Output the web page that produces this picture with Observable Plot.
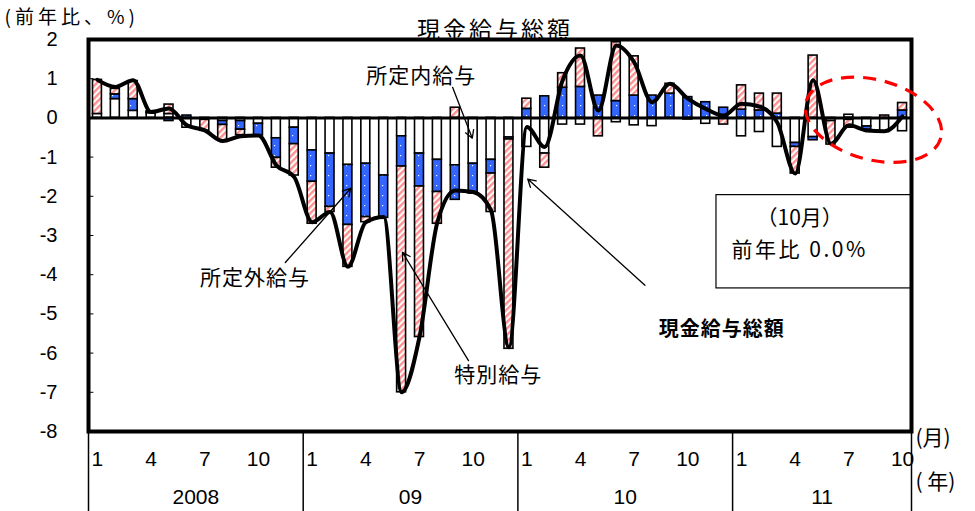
<!DOCTYPE html>
<html><head><meta charset="utf-8">
<script src="https://cdn.jsdelivr.net/npm/d3@7"></script>
<script src="https://cdn.jsdelivr.net/npm/@observablehq/plot@0.6"></script>
<style>
body{margin:0;background:#fff}
#chart svg{display:block}
</style></head>
<body><div id="chart"></div>
<script>
// ---- data (前年比 %, 2008年1月〜2011年10月) ----
const yearLabels = ["2008", "09", "10", "11"];
const monthsPerYear = [12, 12, 12, 10];
const seriesNames = ["所定内給与", "所定外給与", "特別給与"];
const scheduled = [
  0.10, 0.48, 0.18, 0.12, 0.10, -0.25, -0.05, -0.08, -0.08, -0.15, -0.52, -0.25,
  -0.83, -0.91, -1.20, -1.17, -1.47, -0.47, -0.91, -1.07, -1.21, -1.17, -1.07, -0.50,
  -0.74, -0.91, -0.17, -0.17, 0.00, -0.11, -0.19, -0.21, 0.00, -0.04, -0.15, 0.00,
  -0.47, -0.36, -0.74, -0.64, -0.49, -0.08, 0.08, -0.22, -0.36, -0.34
];
const overtime = [
  0.00, 0.12, 0.30, 0.02, -0.08, 0.06, 0.00, -0.10, -0.22, -0.30, -0.50, -0.42,
  -0.80, -1.36, -1.53, -1.36, -1.08, -0.77, -0.84, -0.82, -0.88, -0.76, -0.35, -0.05,
  0.23, 0.55, 0.77, 0.79, 0.57, 0.43, 0.57, 0.57, 0.62, 0.53, 0.40, 0.26,
  0.21, 0.19, 0.11, -0.10, -0.08, 0.00, -0.05, -0.08, 0.00, 0.19
];
const special = [
  0.87, 0.14, 0.46, 0.03, 0.24, 0.00, -0.28, -0.40, -0.14, 0.00, -0.25, -0.80,
  -1.07, -0.13, -1.07, -0.13, 0.00, -5.76, -3.84, -0.81, 0.26, 0.00, -0.98, -5.34,
  0.26, -0.36, 0.37, 0.98, -0.47, 1.50, 1.00, 0.00, 0.25, 0.00, 0.00, -0.17,
  0.62, 0.43, 0.51, -0.68, 1.59, -0.60, -0.20, 0.00, 0.06, 0.19
];
const total = [
  0.97, 0.79, 0.96, 0.15, 0.24, -0.19, -0.32, -0.59, -0.47, -0.45, -1.21, -1.51,
  -2.66, -2.40, -3.80, -2.66, -2.53, -7.00, -5.59, -2.66, -1.85, -1.89, -2.36, -5.85,
  -0.23, -0.74, 0.96, 1.59, 0.19, 1.85, 1.42, 0.40, 0.87, 0.49, 0.23, 0.06,
  0.36, 0.29, -0.12, -1.42, 0.96, -0.66, -0.19, -0.32, -0.34, 0.04
];
const yTicks = [2, 1, 0, -1, -2, -3, -4, -5, -6, -7, -8];
const monthTickValues = [1, 4, 7, 10];

// ---- derived tables ----
const months = [];
yearLabels.forEach((y, yi) => { for (let m = 1; m <= monthsPerYear[yi]; m++) months.push({year: y, month: m, i: months.length}); });
const N = months.length;
const series = [scheduled, overtime, special];
const bars = [];
months.forEach(m => series.forEach((s, k) => bars.push({i: m.i, series: seriesNames[k], value: s[m.i]})));
const lineData = total.map((v, i) => ({i, v}));
const monthTicks = months.filter(m => monthTickValues.includes(m.month));
const yearStarts = months.filter(m => m.month === 1).map(m => m.i);
const yearBounds = [...yearStarts, N];
const yearText = yearLabels.map((label, k) => ({label, c: (yearStarts[k] + yearBounds[k + 1]) / 2}));

// annotation anchors (data units: x = month index, y = %)
const labels = [
  {text: "所定内給与", x: 18.6, y: 1.06},
  {text: "所定外給与", x: 9.3, y: -4.09},
  {text: "特別給与", x: 22.9, y: -6.57}
];
const boldLabels = [{text: "現金給与総額", x: 35.4, y: -5.39}];
const arrows = [
  {x1: 20.35, y1: 0.78, x2: 21.45, y2: -0.52},
  {x1: 11.0, y1: -3.69, x2: 14.65, y2: -1.80},
  {x1: 21.24, y1: -6.19, x2: 17.55, y2: -3.43},
  {x1: 31.1, y1: -4.27, x2: 24.55, y2: -1.56}
];
const box = [{x1: 35.1, x2: N, y1: -1.97, y2: -4.35}];
const boxText = [{t: "（10月）", x: 39.75, y: -2.56}, {t: "前年比 0.0%", x: 39.75, y: -3.38}];

const NUM = "'Liberation Sans Narrow','Liberation Sans',Arial,sans-serif";
const JP = "'Noto Sans CJK JP','Noto Sans CJK SC',sans-serif";

const chart = Plot.plot({
  width: 975, height: 511,
  marginLeft: 88, marginRight: 64, marginTop: 39, marginBottom: 80,
  x: {type: "linear", domain: [0, N], axis: null},
  y: {domain: [-8, 2], axis: null},
  color: {domain: seriesNames, range: ["white", "url(#dots)", "url(#hatch)"]},
  style: {fontFamily: NUM, background: "white", color: "black"},
  marks: [
    Plot.rect(bars, Plot.stackY({x: "i", y: "value", x1: d => d.i + 0.25, x2: d => d.i + 0.75, fill: "series", stroke: "black", strokeWidth: 1.6})),
    Plot.ruleY([0], {stroke: "black", strokeWidth: 3}),
    Plot.line(lineData, {x: d => d.i + 0.5, y: "v", curve: "monotone-x", stroke: "black", strokeWidth: 4, strokeLinejoin: "round"}),
    Plot.rect(box, {x1: "x1", x2: "x2", y1: "y1", y2: "y2", fill: "white", stroke: "black", strokeWidth: 1.2}),
    Plot.text(boxText, {x: "x", y: "y", text: "t", fontSize: 21, fontFamily: JP}),
    Plot.arrow(arrows, {x1: "x1", y1: "y1", x2: "x2", y2: "y2", stroke: "black", strokeWidth: 1.3, headLength: 10}),
    Plot.text(labels, {x: "x", y: "y", text: "text", fontSize: 21, fontFamily: JP}),
    Plot.text(boldLabels, {x: "x", y: "y", text: "text", fontSize: 20, fontWeight: "bold", fontFamily: JP}),
    Plot.frame({stroke: "black", strokeWidth: 4}),
    Plot.ruleY(yTicks, {x1: 0, x2: 0.3, stroke: "black", strokeWidth: 1}),
    Plot.text(yTicks, {x: 0, y: d => d, text: d => String(d), textAnchor: "end", dx: -31, fontSize: 20}),
    Plot.text(monthTicks, {x: d => d.i + 0.5, y: -8, dy: 28, text: d => String(d.month), fontSize: 21}),
    Plot.ruleX(yearBounds, {x: d => d, y1: -8, y2: -10.1, stroke: "black", strokeWidth: 1.5}),
    Plot.text(yearText, {x: "c", y: -8, dy: 66, text: "label", fontSize: 21}),
    Plot.text(["(月)"], {frameAnchor: "bottom-right", dx: 4, dy: 13, textAnchor: "start", fontSize: 21, fontFamily: JP}),
    Plot.text(["( 年)"], {frameAnchor: "bottom-right", dx: 4, dy: 57, textAnchor: "start", fontSize: 21, fontFamily: JP}),
    Plot.text(["現金給与総額"], {frameAnchor: "top", dx: -5, dy: -18, fontSize: 23, fontFamily: JP}),
    Plot.text(["(前年比、%)"], {frameAnchor: "top-left", dx: -84, dy: -29, textAnchor: "start", fontSize: 19, fontFamily: JP})
  ]
});

const svg = d3.select(chart);

// letter spacing of the Japanese texts (wide spacing as in the original)
const spacing = {"現金給与総額": 1, "所定内給与": 1, "所定外給与": 1, "特別給与": 1, "前年比 0.0%": 2.5, "(前年比、%)": 4};
svg.selectAll("text").each(function() {
  const t = this.textContent;
  if (t in spacing) d3.select(this).attr("letter-spacing", spacing[t]);
});
// the title is wider still
svg.selectAll("text").filter(function() { return this.textContent === "現金給与総額" && +this.closest("g").getAttribute("font-size") === 23; })
  .attr("letter-spacing", 3);

// patterns for the bar fills
const defs = svg.insert("defs", ":first-child");
const dots = defs.append("pattern").attr("id", "dots").attr("patternUnits", "userSpaceOnUse").attr("width", 9).attr("height", 10);
dots.append("rect").attr("width", 9).attr("height", 10).attr("fill", "#3366ff");
dots.append("rect").attr("x", 4).attr("y", 5).attr("width", 1.2).attr("height", 1.2).attr("fill", "#ffffff");
const hatch = defs.append("pattern").attr("id", "hatch").attr("patternUnits", "userSpaceOnUse").attr("width", 4.5).attr("height", 4.5).attr("patternTransform", "rotate(45)");
hatch.append("rect").attr("width", 4.5).attr("height", 4.5).attr("fill", "#ffffff");
hatch.append("rect").attr("width", 2.4).attr("height", 4.5).attr("fill", "#ff9090");

// red dashed ellipse around the latest months
const sx = chart.scale("x"), sy = chart.scale("y");
const cx = sx.apply(43.9), cy = sy.apply(-0.06);
const rx = sx.apply(3.9) - sx.apply(0), ry = sy.apply(0) - sy.apply(1.02);
svg.append("ellipse").attr("cx", cx).attr("cy", cy).attr("rx", rx).attr("ry", ry)
  .attr("transform", `rotate(15 ${cx} ${cy})`)
  .attr("fill", "none").attr("stroke", "#ff0000").attr("stroke-width", 3.2).attr("stroke-dasharray", "13 9");

document.getElementById("chart").appendChild(chart);
</script>
</body></html>
